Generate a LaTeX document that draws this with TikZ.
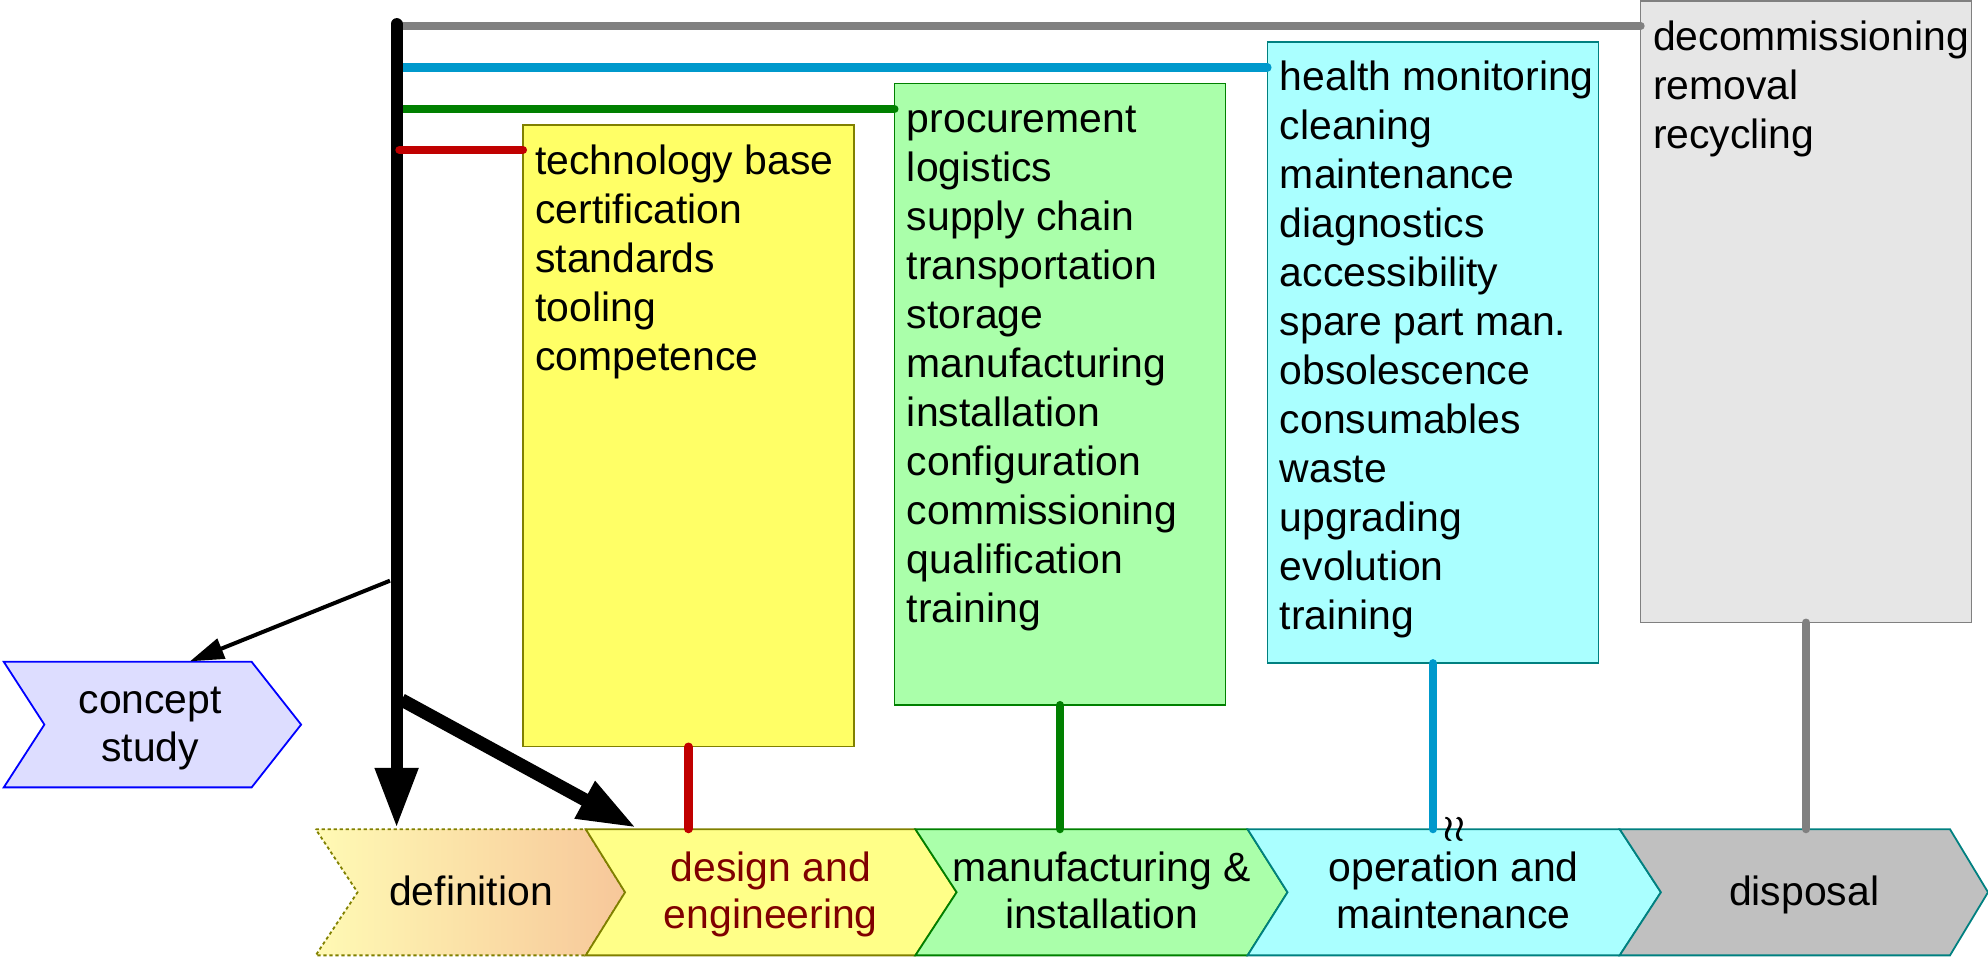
\documentclass[tikz,border=0pt]{standalone}
\usepackage{fontspec}
\setmainfont{Liberation Sans}
\usetikzlibrary{arrows.meta,calc}
\definecolor{cred}{HTML}{C00000}
\definecolor{cgreen}{HTML}{008000}
\definecolor{cblue}{HTML}{0099CC}
\definecolor{cgray}{HTML}{808080}
\definecolor{colive}{HTML}{808000}
\definecolor{cteal}{HTML}{008080}
\definecolor{byellow}{HTML}{FFFF66}
\definecolor{bgreen}{HTML}{AAFFAA}
\definecolor{bcyan}{HTML}{AAFFFF}
\definecolor{bgray}{HTML}{E6E6E6}
\definecolor{chyellow}{HTML}{FFFF88}
\definecolor{chgray}{HTML}{C0C0C0}
\definecolor{chblue}{HTML}{DDDDFF}
\definecolor{cdarkred}{HTML}{800000}
\definecolor{deflight}{HTML}{FFFAB4}
\definecolor{defdark}{HTML}{F7C79A}
\newcommand\lines[1]{\begin{tabular}[t]{@{}l@{}}#1\end{tabular}}
\newcommand\clines[1]{\begin{tabular}{@{}c@{}}#1\end{tabular}}
% style, x1, x2, y1, y2, notch depth, tip depth
\newcommand\chevron[7]{\path[#1] (#2,#4) -- (#3,#4) -- ({#3+#7},{(#4+#5)/2}) -- (#3,#5) -- (#2,#5) -- ({#2+#6},{(#4+#5)/2}) -- cycle;}
\newcommand\breakmark{$\wr\mkern1mu\wr$}
\begin{document}
\begin{tikzpicture}[x=0.634pt,y=-0.634pt,
  infobox/.style={line width=0.8pt, anchor=north west, minimum width=165.5pt, minimum height=310.7pt, inner sep=0pt, outer sep=0pt},
  listtext/.style={anchor=base west, inner sep=0pt, font=\fontsize{20.45pt}{24.5pt}\selectfont},
  chevtext/.style={inner sep=0pt, font=\fontsize{20.45pt}{23.6pt}\selectfont},
  chevline/.style={line width=0.9pt, line join=miter},
  link/.style={line width=4.06pt, line cap=round},
  mainline/.style={line width=6pt, -{Triangle[length=30pt,width=20.3pt]}},
  diagarrow/.style={line width=6.6pt, -{Triangle[length=29.5pt,width=19.5pt]}},
  thinarrow/.style={line width=2pt, -{Triangle[length=17pt,width=10.5pt]}},
  brkmark/.style={inner sep=0pt, font=\fontsize{19pt}{21pt}\selectfont}
]
\useasboundingbox (0,0) rectangle (1568,754.8);

% information boxes
\node[infobox, draw=cgray, fill=bgray] (xb) at (1294,1) {};
\node[infobox, draw=cteal, fill=bcyan] (cb) at (999.7,33) {};
\node[infobox, draw=cgreen, fill=bgreen] (gb) at (705.5,66) {};
\node[infobox, draw=colive, fill=byellow] (yb) at (412.5,98.8) {};

\node[listtext] (xt) at ([shift={(9.5,38.8)}]xb.north west) {\lines{decommissioning\\removal\\recycling}};
\node[listtext] (ct) at ([shift={(9.5,38.5)}]cb.north west) {\lines{health monitoring\\cleaning\\maintenance\\diagnostics\\accessibility\\spare part man.\\obsolescence\\consumables\\waste\\upgrading\\evolution\\training}};
\node[listtext] (gt) at ([shift={(9.5,38.5)}]gb.north west) {\lines{procurement\\logistics\\supply chain\\transportation\\storage\\manufacturing\\installation\\configuration\\commissioning\\qualification\\training}};
\node[listtext] (yt) at ([shift={(9.5,38.5)}]yb.north west) {\lines{technology base\\certification\\standards\\tooling\\competence}};

% chevrons
\chevron{chevline, draw=colive, dash pattern=on 1.6pt off 1.4pt, left color=deflight, right color=defdark}{249}{462}{654}{753.5}{33}{31}
\chevron{chevline, draw=colive, fill=chyellow}{462}{722}{654}{753.5}{31}{32.5}
\chevron{chevline, draw=cgreen, fill=bgreen}{722}{984}{654}{753.5}{32.5}{31.5}
\chevron{chevline, draw=cteal, fill=bcyan}{984}{1277.5}{654}{753.5}{31.5}{32.5}
\chevron{chevline, draw=cteal, fill=chgray}{1277.5}{1538}{654}{753.5}{32.5}{30}
\chevron{chevline, draw=blue, fill=chblue}{3}{198.5}{522}{621}{32}{39}

\node[chevtext] (def) at (371.5,707) {\clines{definition}};
\node[chevtext, text=cdarkred] (des) at (608,706.3) {\clines{design and\\engineering}};
\node[chevtext] (man) at (869,706.3) {\clines{manufacturing \&\\installation}};
\node[chevtext] (ope) at (1146.5,706.3) {\clines{operation and\\maintenance}};
\node[chevtext] (dis) at (1423,707) {\clines{disposal}};
\node[chevtext] (con) at (118.5,574.3) {\clines{concept\\study}};

\coordinate (rowtop) at (0,654);
\coordinate (vtop) at (312.8,19);
\coordinate (vred) at (315,19);
\coordinate (def-in) at (312.8,653);
\coordinate (des-in) at (502,653);
\coordinate (con-in) at (149.8,521.6);
\coordinate (fork-con) at (307.6,458);
\coordinate (fork-des) at (316.8,552);

% vertical connectors from boxes to phases
\draw[link, cred] (yb.south) -- (yb.south |- rowtop);
\draw[link, cgreen] (gb.south) -- (gb.south |- rowtop);
\draw[link, cblue] (cb.south) -- (cb.south |- rowtop);
\draw[link, cgray] (xb.south) -- (xb.south |- rowtop);

% horizontal connectors
\coordinate (xl) at ([shift={(0,19.4)}]xb.north west);
\coordinate (cl) at ([shift={(0,20.2)}]cb.north west);
\coordinate (gl) at ([shift={(0,20)}]gb.north west);
\coordinate (yl) at ([shift={(0,19.5)}]yb.north west);
\draw[link, cgray] (vtop |- xl) -- (xl);
\draw[link, cblue] (vtop |- cl) -- (cl);
\draw[link, cgreen] (vtop |- gl) -- (gl);

% main black arrows
\draw[mainline, line cap=round] (vtop) -- (def-in);
\draw[diagarrow] (fork-des) -- (des-in);
\draw[thinarrow] (fork-con) -- (con-in);

\draw[link, cred] (vred |- yl) -- (yl);

% break mark (overprinted to thicken the strokes)
\node[brkmark] (brk) at (1146.6,654.5) {\breakmark};
\node[brkmark] (brkb) at (1147.3,654.5) {\breakmark};
\node[brkmark] (brkc) at (1146.95,654.1) {\breakmark};
\end{tikzpicture}
\end{document}
